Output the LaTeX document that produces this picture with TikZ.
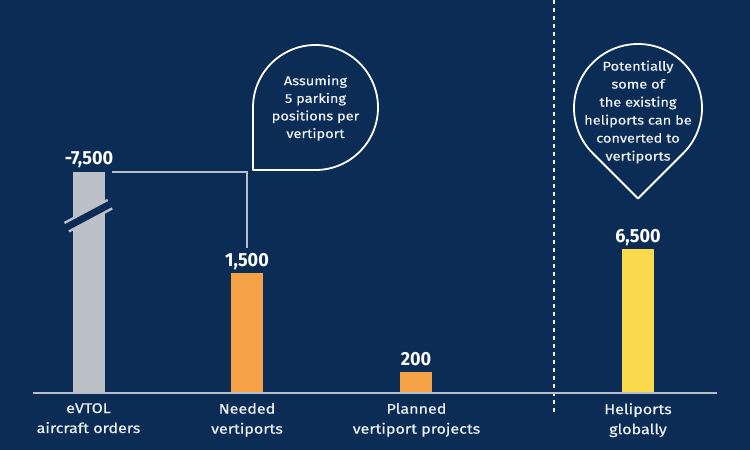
\documentclass[tikz,border=0pt]{standalone}
\usepackage{fontspec}
\setmainfont{Fira Sans}
\newfontfamily\lblfont[FakeStretch=1.15,FakeBold=0.4]{Fira Sans}
\newfontfamily\numfont[FakeStretch=0.95]{Fira Sans}
\definecolor{bg}{HTML}{0B2C55}
\definecolor{barGray}{HTML}{BCC1C9}
\definecolor{barOrange}{HTML}{F5A145}
\definecolor{barYellow}{HTML}{FADA4C}
\definecolor{txt}{HTML}{EEF1F5}
\definecolor{axisGray}{HTML}{B8BFCA}
\tikzset{
  bar/.style={draw=none, inner sep=0pt, minimum width=32pt, anchor=south},
  valuelabel/.style={anchor=base, inner sep=0pt, text=white, font=\numfont\bfseries\fontsize{19}{19}\selectfont},
  catlabel/.style={anchor=north, inner sep=0pt, align=center, text=txt, font=\lblfont\fontsize{14}{20}\selectfont},
  bubble/.style={draw=white, line width=1.8pt, line join=round},
  bubbletext/.style={align=center, inner sep=0pt, text=txt, font=\lblfont\fontsize{12.7}{17.6}\selectfont},
  axisline/.style={draw=axisGray, line width=1.8pt},
  sepline/.style={draw=txt, line width=1.4pt, dash pattern=on 4pt off 4pt},
  connector/.style={draw=axisGray, line width=1.4pt}
}
\begin{document}
\begin{tikzpicture}[x=1pt,y=1pt]
\fill[bg] (0,0) rectangle (750,450);
\useasboundingbox (0,0) rectangle (750,450);

% separator
\draw[sepline] (554,450) -- (554,35);

% bars
\node[bar, fill=barGray, minimum height=221pt] (b1) at (89,57) {};
\node[bar, fill=barOrange, minimum height=120pt] (b2) at (247,57) {};
\node[bar, fill=barOrange, minimum height=21pt] (b3) at (416,57) {};
\node[bar, fill=barYellow, minimum height=144pt] (b4) at (638,57) {};

% break symbol on the grey bar
\draw[barGray, line width=12pt] (66.7,222.8) -- (110,245.85);
\draw[bg, line width=7pt] (64.05,221.4) -- (112.65,247.3);

% axis
\draw[axisline] (33,57) -- (717,57);

% value labels
\node[valuelabel] (v1) at ([yshift=7pt]b1.north) {-7,500};
\node[valuelabel] (v2) at ([yshift=6.5pt]b2.north) {1,500};
\node[valuelabel] (v3) at ([yshift=6.5pt]b3.north) {200};
\node[valuelabel] (v4) at ([yshift=6pt]b4.north) {6,500};

% connector
\coordinate (cstart) at (112,278);
\draw[connector] (cstart) -| ([yshift=5pt]v2.north);

% category labels
\node[catlabel] (c1) at (88.5,47) {eVTOL\\aircraft orders};
\node[catlabel] (c2) at (247,47) {Needed\\vertiports};
\node[catlabel] (c3) at (416.5,47) {Planned\\vertiport projects};
\node[catlabel] (c4) at (638,47) {Heliports\\globally};

% bubble 1 (tip bottom-left)
\draw[bubble] (253,280) -- (253,342.5) arc[start angle=180, end angle=-90, radius=62.5] -- cycle;
\node[bubbletext] (t1) at (315.5,342) {Assuming\\5 parking\\positions per\\vertiport};

% bubble 2 (tip at bottom)
\draw[bubble] (638,251.5) -- ({638+64*cos(-45)},{342+64*sin(-45)}) arc[start angle=-45, end angle=225, radius=64] -- cycle;
\node[bubbletext, font=\lblfont\fontsize{12.7}{18}\selectfont] (t2) at (638,338) {Potentially\\some of\\the existing\\heliports can be\\converted to\\vertiports};
\end{tikzpicture}
\end{document}
